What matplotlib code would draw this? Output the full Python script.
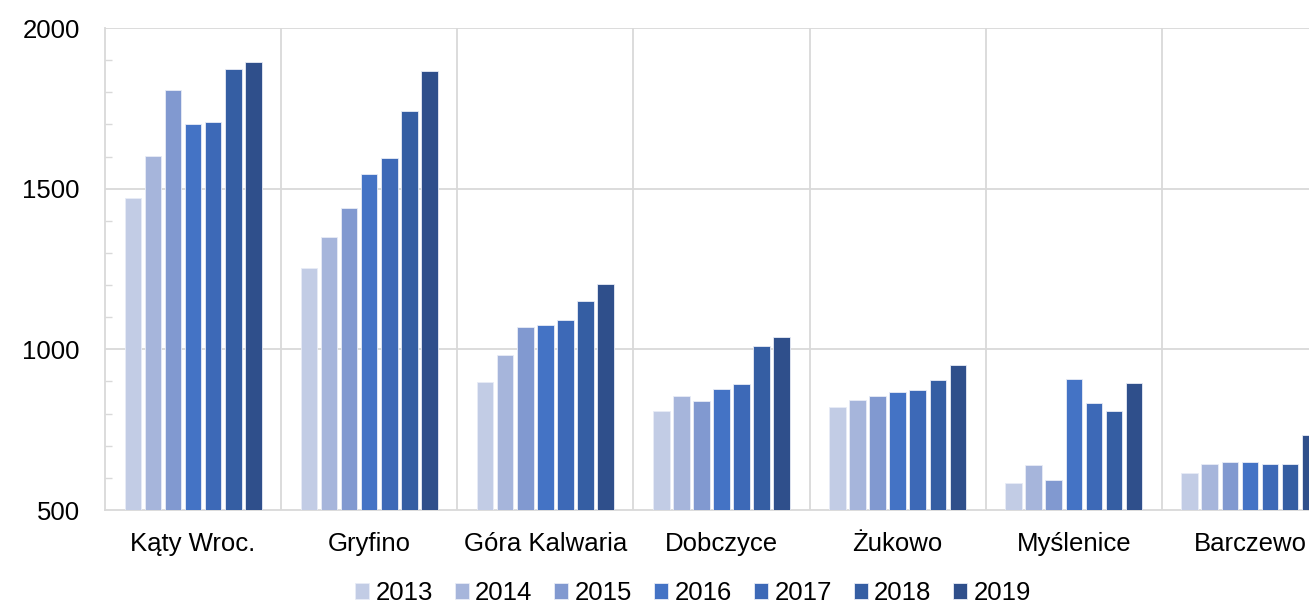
import numpy as np
import matplotlib
matplotlib.use("Agg")
import matplotlib.pyplot as plt
from matplotlib.ticker import MultipleLocator

plt.rcParams["font.family"] = ["Liberation Sans", "DejaVu Sans"]

# --- data ---
towns = ["Kąty Wroc.", "Gryfino", "Góra Kalwaria", "Dobczyce", "Żukowo", "Myślenice", "Barczewo"]
years = ["2013", "2014", "2015", "2016", "2017", "2018", "2019"]
values = {
    "2013": [1470, 1252, 898, 808, 820, 584, 616],
    "2014": [1603, 1351, 982, 854, 842, 640, 644],
    "2015": [1807, 1440, 1069, 838, 856, 593, 649],
    "2016": [1702, 1547, 1075, 876, 866, 908, 648],
    "2017": [1706, 1594, 1091, 892, 872, 833, 644],
    "2018": [1872, 1741, 1150, 1011, 905, 808, 642],
    "2019": [1894, 1865, 1203, 1037, 951, 895, 733],
}
colors = ["#c2cce5", "#a6b5db", "#8199d0", "#4473c5", "#3d69b7", "#355ea3", "#2f4f8b"]

fig = plt.figure(figsize=(13.09, 6.04), dpi=100)
# axes run past the right edge so the last group is clipped
ax = fig.add_axes([105 / 1309, 94 / 604, 1233 / 1309, 482 / 604])

x = np.arange(len(towns))
pitch = 0.114
bw = 0.094
for i, yr in enumerate(years):
    offs = (i - 3) * pitch
    ax.bar(x + offs, np.array(values[yr]) - 500, bottom=500, width=bw,
           color=colors[i], label=yr, zorder=3, edgecolor="#e8ecf6", linewidth=0.6)

ax.set_xlim(-0.5, len(towns) - 0.5)
ax.set_ylim(500, 2000)
ax.set_yticks([500, 1000, 1500, 2000])
ax.yaxis.set_minor_locator(MultipleLocator(100))
ax.set_xticks(x)
ax.set_xticklabels(towns, fontsize=18.5)
ax.tick_params(axis="y", which="major", length=0, pad=18, labelsize=18.5)
ax.tick_params(axis="y", which="minor", direction="in", length=5, color="#d9d9d9", width=1)
ax.tick_params(axis="x", length=0, pad=16)

# grid: horizontal majors and vertical separators between towns
for yv in [1000, 1500, 2000]:
    ax.axhline(yv, color="#d9d9d9", lw=1.3, zorder=1)
for xv in np.arange(0.5, len(towns) - 0.5, 1.0):
    ax.axvline(xv, color="#d9d9d9", lw=1.3, zorder=1)

for s in ["top", "right"]:
    ax.spines[s].set_visible(False)
ax.spines["left"].set_color("#d9d9d9")
ax.spines["left"].set_linewidth(1.3)
ax.spines["bottom"].set_color("#d9d9d9")
ax.spines["bottom"].set_linewidth(1.3)

leg = fig.legend(loc="center", bbox_to_anchor=(693 / 1309, 1 - 593 / 604), ncol=7,
                 frameon=False, fontsize=18.5, handlelength=0.55, handleheight=0.55,
                 handletextpad=0.25, columnspacing=0.85)

fig.savefig("out.png", dpi=100)
